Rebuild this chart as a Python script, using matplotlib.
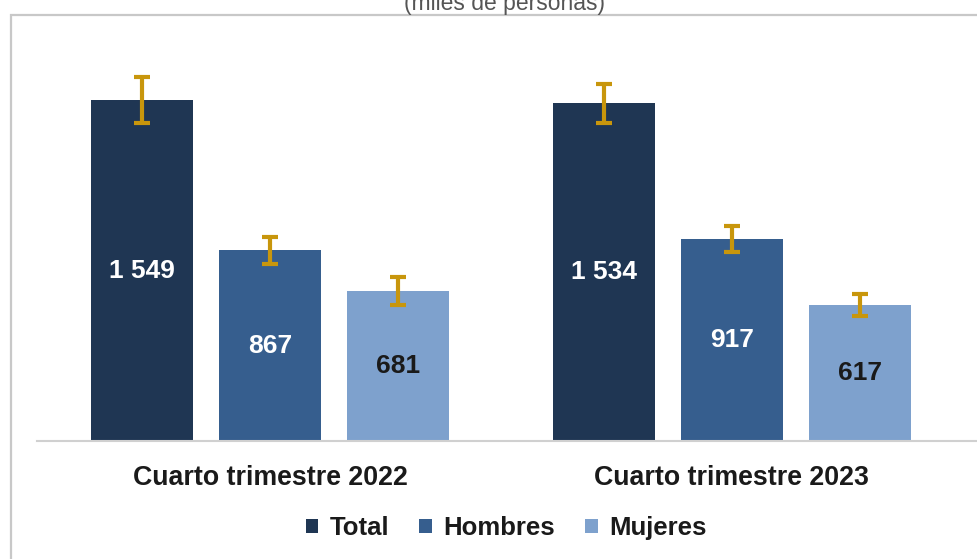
import numpy as np
import matplotlib
matplotlib.use("Agg")
import matplotlib.pyplot as plt
from matplotlib.patches import Rectangle

# ────────────────────────────────────────────────
#  Data (miles de personas)
# ────────────────────────────────────────────────
periodos = ["Cuarto trimestre 2022", "Cuarto trimestre 2023"]
series = ["Total", "Hombres", "Mujeres"]
total = [1549, 1534]
hombres = [867, 917]
mujeres = [681, 617]
err_total = [105, 87]
err_hombres = [61, 60]
err_mujeres = [65, 51]
etiquetas = [["1 549", "1 534"], ["867", "917"], ["681", "617"]]

colores = ["#1f3653", "#365e8e", "#7ea1cd"]
color_txt = ["white", "white", "#1a1a1a"]
color_err = "#c8960c"

plt.rcParams["font.family"] = ["Liberation Sans", "DejaVu Sans"]

fig = plt.figure(figsize=(9.78, 5.59), dpi=100)

# marco exterior
fig.patches.append(Rectangle((11 / 978, -0.05), 1.0, 1 - 15 / 559 + 0.05,
                             transform=fig.transFigure, fill=False,
                             edgecolor="#c8c8c8", linewidth=1.6))

fig.text(505 / 978, 0.982, "(miles de personas)", ha="center", va="baseline",
         fontsize=16.5, color="#555555")

ax = fig.add_axes([37 / 978, 118 / 559, 1 - 37 / 978, (441 - 18) / 559])

x = np.arange(len(periodos))
offset = 0.2777
width = 0.2213
valores = [total, hombres, mujeres]
errores = [err_total, err_hombres, err_mujeres]

for i, (nombre, vals, errs) in enumerate(zip(series, valores, errores)):
    pos = x + (i - 1) * offset
    ax.bar(pos, vals, width, color=colores[i], label=nombre, zorder=2)
    ax.errorbar(pos, vals, yerr=errs, fmt="none", ecolor=color_err,
                elinewidth=3, capsize=6, capthick=3, zorder=3)
    for p, v, t in zip(pos, vals, etiquetas[i]):
        ax.text(p, v / 2, t, ha="center", va="center", fontsize=19,
                fontweight="bold", color=color_txt[i], zorder=4)

ax.set_xlim(-0.5054, 1.5336)
ax.set_ylim(0, 423 / 0.2201)

for s in ["top", "right", "left"]:
    ax.spines[s].set_visible(False)
ax.spines["bottom"].set_color("#d0d0d0")
ax.spines["bottom"].set_linewidth(1.5)
ax.set_yticks([])
ax.set_xticks(x)
ax.set_xticklabels(periodos, fontsize=19.3, fontweight="bold", color="#1a1a1a")
ax.tick_params(axis="x", length=0, pad=17)
ax.patch.set_alpha(0)

leg = ax.legend(loc="center", bbox_to_anchor=((506 - 37) / 941, -0.206),
                ncol=3, frameon=False, fontsize=18.5, handlelength=0.5,
                handleheight=0.5, handletextpad=0.45, columnspacing=1.15)
for t in leg.get_texts():
    t.set_fontweight("bold")
    t.set_color("#1a1a1a")

fig.savefig("out.png", dpi=100)
